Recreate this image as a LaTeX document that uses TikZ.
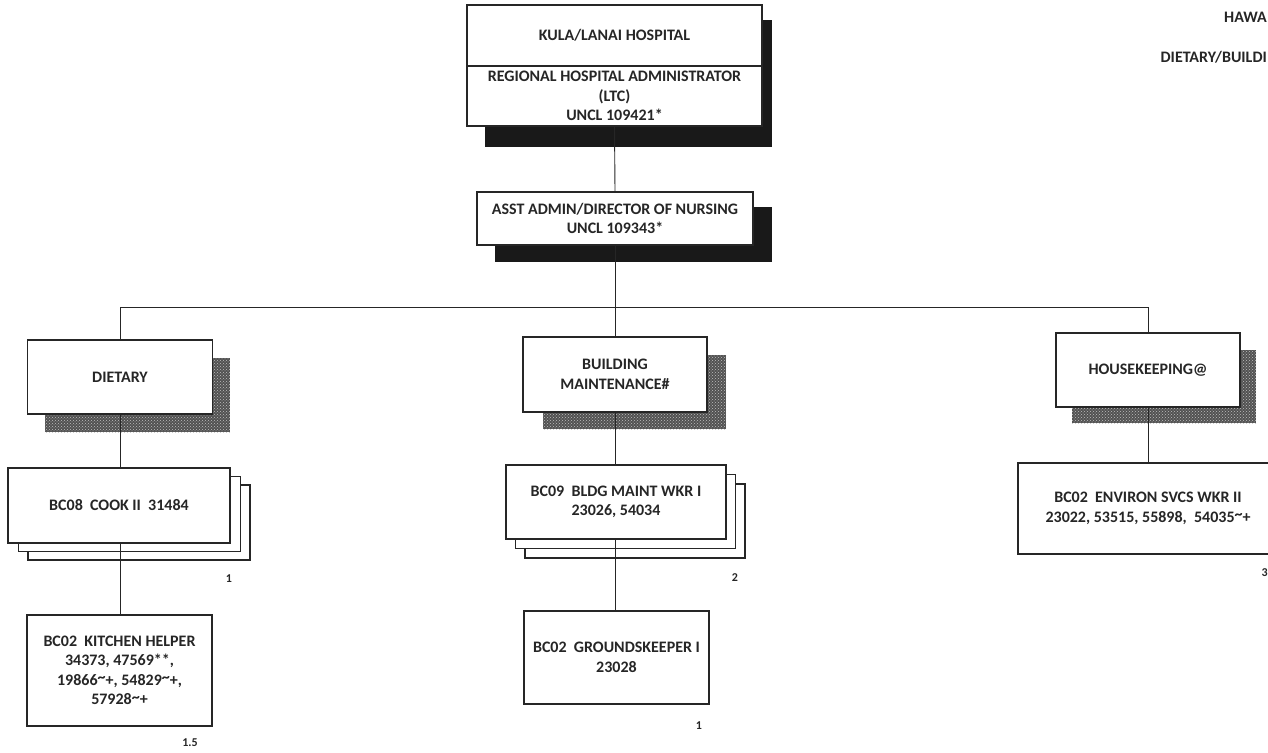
\documentclass[tikz,border=0pt]{standalone}
\usepackage{fontspec}
\setmainfont{Carlito}
\usetikzlibrary{patterns}
\newcommand{\tld}{\raisebox{0.35ex}{\textasciitilde}}
\begin{document}
\begin{tikzpicture}[x=1pt,y=-1pt,
  box/.style={draw=black!85, line width=1.1pt, fill=white, align=center,
    font=\bfseries\fontsize{16}{19.5}\selectfont, text=black!85, inner sep=2pt},
  stackbox/.style={draw=black!85, line width=1.1pt, fill=white, inner sep=0pt},
  conn/.style={draw=black!85, line width=0.9pt},
  dshadow/.style={fill=black!90},
  gshadow/.style={fill=black!68, postaction={pattern=crosshatch dots, pattern color=white!75!black}},
  num/.style={font=\bfseries\fontsize{12}{13}\selectfont, text=black!85},
  hdr/.style={font=\bfseries\fontsize{16}{18}\selectfont, text=black!85, anchor=east, inner sep=0pt}]
\useasboundingbox (0,0) rectangle (1268,752);
\clip (0,0) rectangle (1268,752);

% header (visible part only)
\node[hdr] (hdr1) at (1267,17) {HAWA};
\node[hdr] (hdr2) at (1267,57) {DIETARY/BUILDI};

% shadows
\fill[dshadow] (485,20) rectangle (772,147);
\fill[dshadow] (495,207) rectangle (772,262);
\fill[gshadow] (45,358) rectangle (230,432);
\fill[gshadow] (543,355) rectangle (726,429);
\fill[gshadow] (1072,350) rectangle (1256,423);

% top box
\node[box, minimum width=295pt, minimum height=61pt] (top1) at (614.5,35.5) {KULA/LANAI HOSPITAL};
\node[box, minimum width=295pt, minimum height=60pt] (top2) at (614.5,96) {REGIONAL HOSPITAL ADMINISTRATOR\\(LTC)\\UNCL 109421*};

\node[box, minimum width=276pt, minimum height=53pt] (asst) at (615,218.5) {ASST ADMIN/DIRECTOR OF NURSING\\UNCL 109343*};

% departments
\node[box, minimum width=185pt, minimum height=74pt] (diet) at (120,377) {DIETARY};
\node[box, minimum width=184pt, minimum height=75pt] (bm) at (615,374.5) {BUILDING\\MAINTENANCE\#};
\node[box, minimum width=184pt, minimum height=74pt] (hk) at (1148,370) {HOUSEKEEPING@};

% cook stack
\node[stackbox, minimum width=222pt, minimum height=75pt] (cook3) at (139,522.5) {};
\node[stackbox, minimum width=222pt, minimum height=75pt] (cook2) at (129.5,514) {};
\node[box, minimum width=222pt, minimum height=75pt] (cook) at (119,505.5) {BC08\ \ COOK II\ \ 31484};

% building maintenance worker stack
\node[stackbox, minimum width=220pt, minimum height=74pt] (bmw3) at (635,521) {};
\node[stackbox, minimum width=220pt, minimum height=74pt] (bmw2) at (625.5,511.5) {};
\node[box, minimum width=220pt, minimum height=74pt] (bmw) at (616,502) {BC09\ \ BLDG MAINT WKR I\\23026, 54034};

\node[box, minimum width=260pt, minimum height=91pt] (env) at (1148,508.5) {BC02\ \ ENVIRON SVCS WKR II\\23022, 53515, 55898,\ \ 54035\tld+};

\node[box, minimum width=185pt, minimum height=111pt] (helper) at (119.5,670.5) {BC02\ \ KITCHEN HELPER\\34373, 47569**,\\19866\tld+, 54829\tld+,\\57928\tld+};
\node[box, minimum width=185pt, minimum height=93pt] (ground) at (616.5,657.5) {BC02\ \ GROUNDSKEEPER I\\23028};

% counts
\node[num] (n1) at (229,579) {1};
\node[num] (n2) at (735,578) {2};
\node[num, anchor=east, inner sep=0pt] (n3) at (1268,573) {3};
\node[num] (n4) at (190,743) {1.5};
\node[num] (n5) at (699,726) {1};

% connectors
\coordinate (bus) at (615,307);
\coordinate (busL) at (120,307);
\coordinate (busR) at (1148,307);
\draw[conn] (top2.south) -- (asst.north);
\draw[conn] (asst.south) -- (bus);
\draw[conn] (busL) -- (busR);
\draw[conn] (busL) -- (diet.north);
\draw[conn] (bus) -- (bm.north);
\draw[conn] (busR) -- (hk.north);
\draw[conn] (diet.south) -- (diet.south |- cook.north);
\draw[conn] (bm.south) -- (bm.south |- bmw.north);
\draw[conn] (hk.south) -- (hk.south |- env.north);
\draw[conn] (cook.south -| diet.south) -- (diet.south |- helper.north);
\draw[conn] (bmw.south -| bm.south) -- (bm.south |- ground.north);
\end{tikzpicture}
\end{document}
